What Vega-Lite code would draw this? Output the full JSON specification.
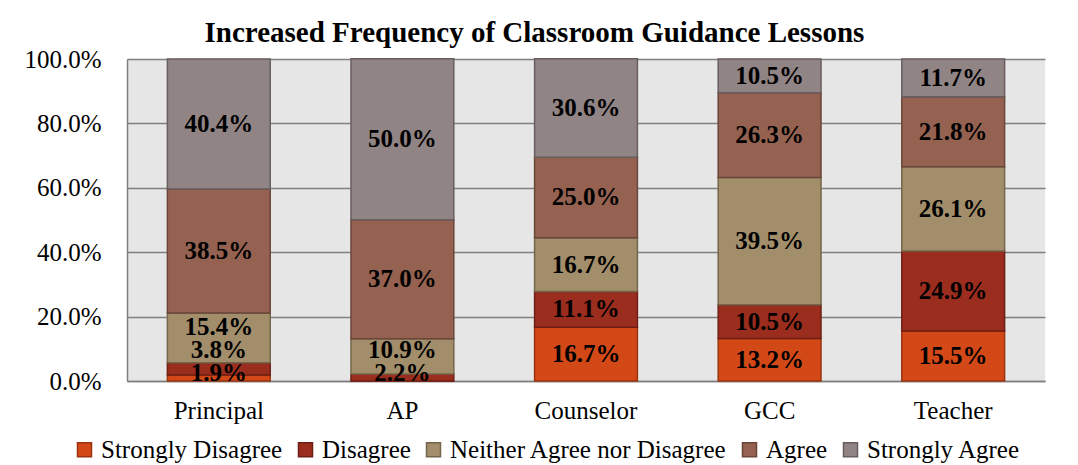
{
  "$schema": "https://vega.github.io/schema/vega-lite/v6.json",
  "width": 918,
  "height": 322,
  "padding": {"left": 23, "top": 19, "right": 34, "bottom": 5},
  "background": "white",
  "title": {
    "text": "Increased Frequency of Classroom Guidance Lessons",
    "font": "Liberation Serif",
    "fontSize": 29,
    "fontWeight": "bold",
    "color": "black",
    "anchor": "middle",
    "frame": "bounds",
    "offset": -1
  },
  "data": {
    "values": [
      {"role": "Principal", "response": "Strongly Disagree", "value": 1.9},
      {"role": "Principal", "response": "Disagree", "value": 3.8},
      {"role": "Principal", "response": "Neither Agree nor Disagree", "value": 15.4},
      {"role": "Principal", "response": "Agree", "value": 38.5},
      {"role": "Principal", "response": "Strongly Agree", "value": 40.4},
      {"role": "AP", "response": "Strongly Disagree", "value": 0},
      {"role": "AP", "response": "Disagree", "value": 2.2},
      {"role": "AP", "response": "Neither Agree nor Disagree", "value": 10.9},
      {"role": "AP", "response": "Agree", "value": 37.0},
      {"role": "AP", "response": "Strongly Agree", "value": 50.0},
      {"role": "Counselor", "response": "Strongly Disagree", "value": 16.7},
      {"role": "Counselor", "response": "Disagree", "value": 11.1},
      {"role": "Counselor", "response": "Neither Agree nor Disagree", "value": 16.7},
      {"role": "Counselor", "response": "Agree", "value": 25.0},
      {"role": "Counselor", "response": "Strongly Agree", "value": 30.6},
      {"role": "GCC", "response": "Strongly Disagree", "value": 13.2},
      {"role": "GCC", "response": "Disagree", "value": 10.5},
      {"role": "GCC", "response": "Neither Agree nor Disagree", "value": 39.5},
      {"role": "GCC", "response": "Agree", "value": 26.3},
      {"role": "GCC", "response": "Strongly Agree", "value": 10.5},
      {"role": "Teacher", "response": "Strongly Disagree", "value": 15.5},
      {"role": "Teacher", "response": "Disagree", "value": 24.9},
      {"role": "Teacher", "response": "Neither Agree nor Disagree", "value": 26.1},
      {"role": "Teacher", "response": "Agree", "value": 21.8},
      {"role": "Teacher", "response": "Strongly Agree", "value": 11.7}
    ]
  },
  "transform": [
    {"calculate": "indexof(['Strongly Disagree','Disagree','Neither Agree nor Disagree','Agree','Strongly Agree'], datum.response)", "as": "k"},
    {"stack": "value", "groupby": ["role"], "sort": [{"field": "k", "order": "ascending"}], "as": ["y0", "y1"]}
  ],
  "encoding": {
    "x": {
      "field": "role",
      "type": "nominal",
      "sort": ["Principal", "AP", "Counselor", "GCC", "Teacher"],
      "scale": {"paddingInner": 0.44, "paddingOuter": 0.22},
      "axis": {
        "title": null,
        "labelAngle": 0,
        "labelFont": "Liberation Serif",
        "labelFontSize": 25,
        "labelColor": "black",
        "labelPadding": 17,
        "ticks": false,
        "domainColor": "#808080",
        "domainWidth": 1.5,
        "grid": false
      }
    }
  },
  "layer": [
    {
      "mark": {"type": "bar", "strokeWidth": 1.5},
      "encoding": {
        "y": {
          "field": "y0",
          "type": "quantitative",
          "scale": {"domain": [0, 100]},
          "axis": {
            "title": null,
            "values": [0, 20, 40, 60, 80, 100],
            "labelExpr": "format(datum.value, '.1f') + '%'",
            "labelFont": "Liberation Serif",
            "labelFontSize": 25,
            "labelColor": "black",
            "labelPadding": 26,
            "ticks": false,
            "domainColor": "#808080",
            "domainWidth": 1.5,
            "gridColor": "#808080",
            "gridWidth": 1.5
          }
        },
        "y2": {"field": "y1"},
        "fill": {
          "field": "response",
          "type": "nominal",
          "scale": {
            "domain": ["Strongly Disagree", "Disagree", "Neither Agree nor Disagree", "Agree", "Strongly Agree"],
            "range": ["#D34817", "#9B2D1F", "#A28E6A", "#956251", "#918485"]
          },
          "legend": {
            "title": null,
            "orient": "none",
            "legendX": -55,
            "legendY": 378,
            "direction": "horizontal",
            "symbolType": "square",
            "symbolSize": 196,
            "symbolStrokeWidth": 1.5,
            "labelFont": "Liberation Serif",
            "labelFontSize": 25,
            "labelColor": "black",
            "labelOffset": 4,
            "columnPadding": 10,
            "labelLimit": 400
          }
        },
        "stroke": {
          "field": "response",
          "type": "nominal",
          "scale": {
            "domain": ["Strongly Disagree", "Disagree", "Neither Agree nor Disagree", "Agree", "Strongly Agree"],
            "range": ["#9A3410", "#6E1F15", "#75664B", "#6A463A", "#685E5F"]
          },
          "legend": null
        },
        "order": {"field": "k", "type": "quantitative"}
      }
    },
    {
      "transform": [
        {"filter": "datum.value > 0"},
        {"window": [{"op": "row_number", "as": "r"}], "groupby": ["role"], "sort": [{"field": "k", "order": "ascending"}]},
        {"calculate": "max((datum.y0 + datum.y1) / 2, 2.4 + 7.2 * (datum.r - 1))", "as": "ly"},
        {"calculate": "format(datum.value, '.1f') + '%'", "as": "label"}
      ],
      "mark": {
        "type": "text",
        "font": "Liberation Serif",
        "fontSize": 25,
        "fontWeight": "bold",
        "color": "black",
        "baseline": "middle",
        "align": "center"
      },
      "encoding": {
        "y": {"field": "ly", "type": "quantitative"},
        "text": {"field": "label", "type": "nominal"}
      }
    }
  ],
  "config": {
    "view": {"fill": "#E6E6E6", "stroke": null},
    "font": "Liberation Serif"
  }
}
